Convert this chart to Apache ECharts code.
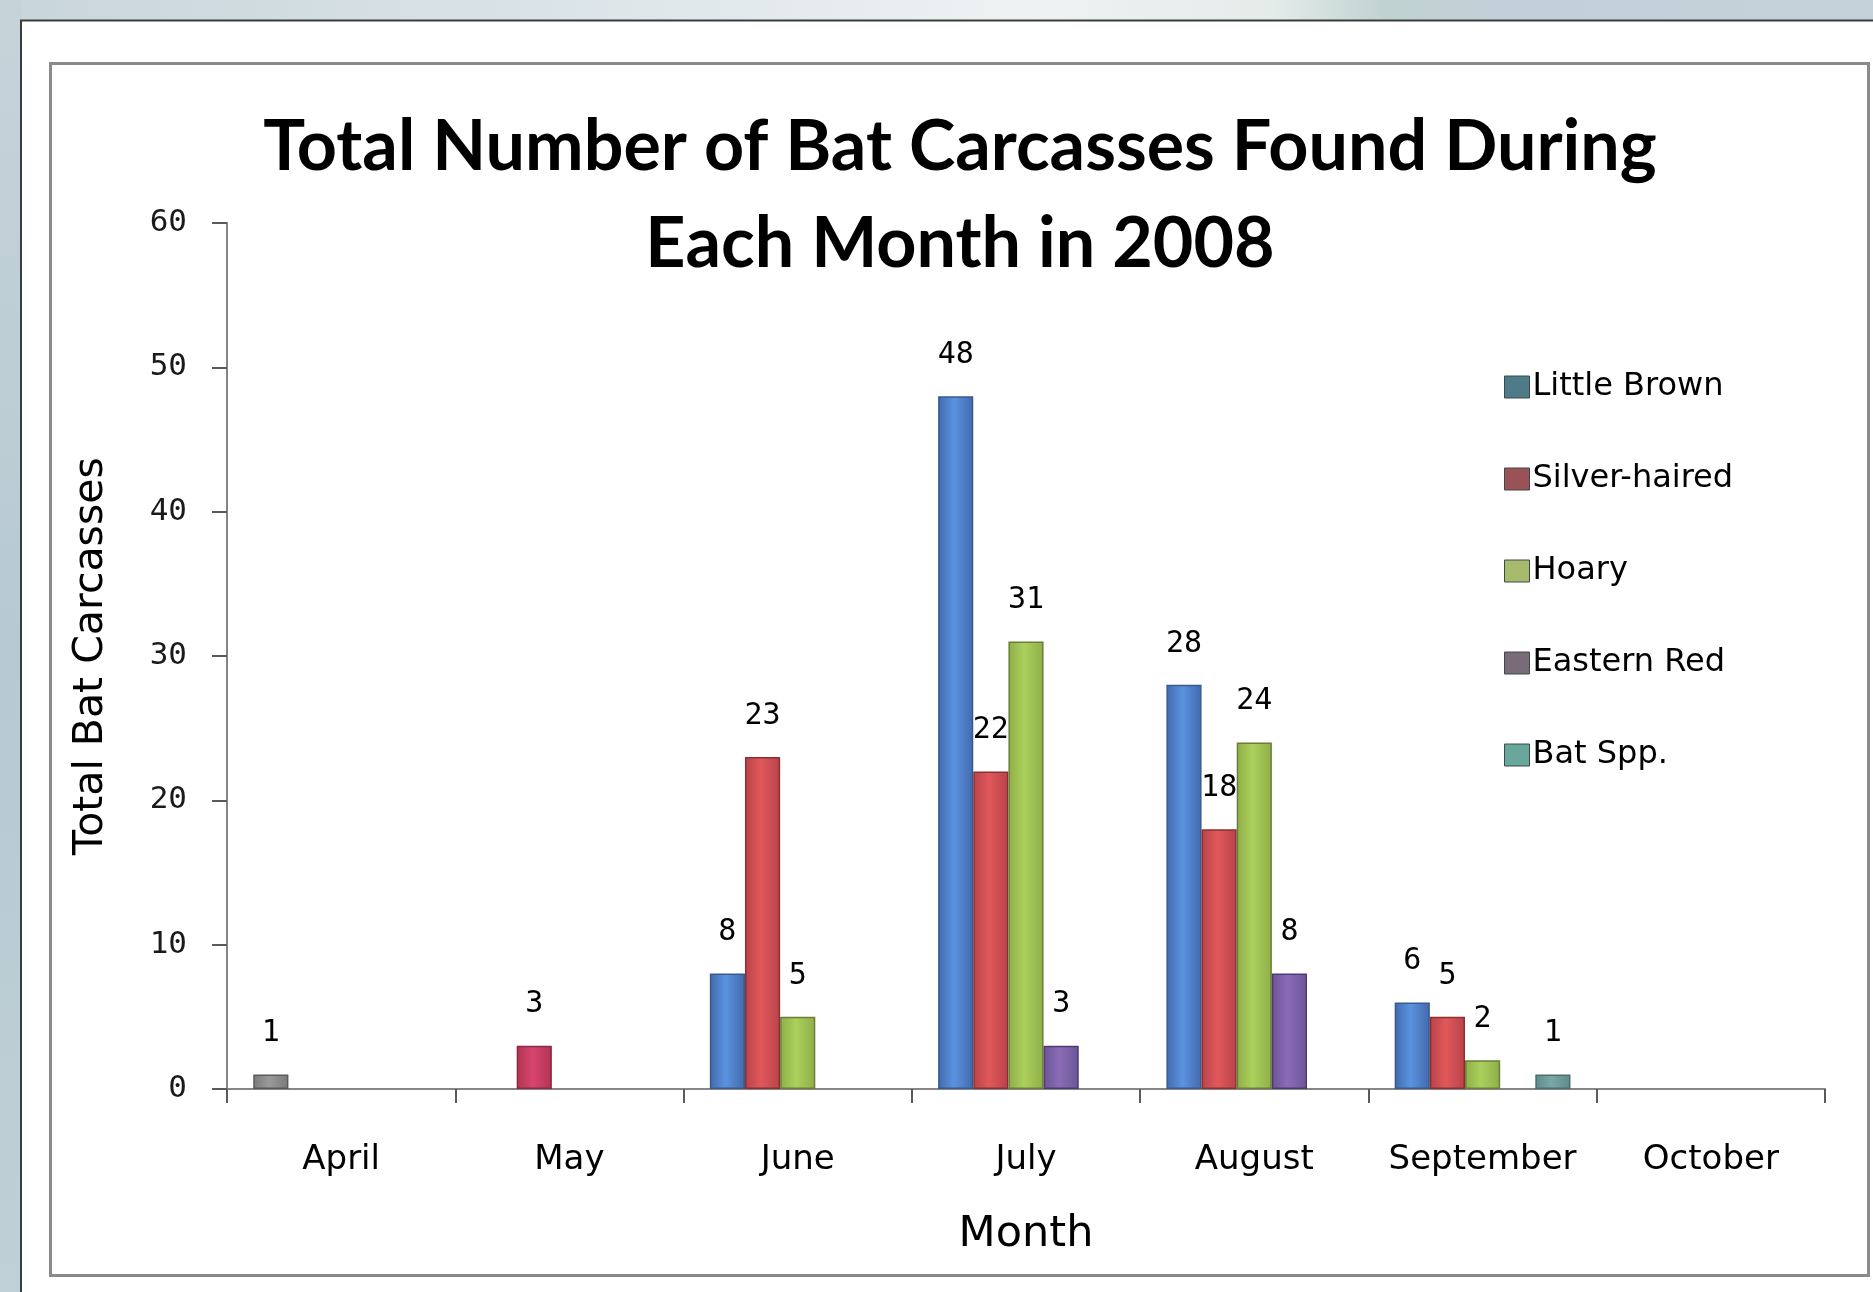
<!DOCTYPE html>
<html>
<head>
<meta charset="utf-8">
<title>Total Number of Bat Carcasses Found During Each Month in 2008</title>
<script src="https://cdn.jsdelivr.net/npm/echarts@6/dist/echarts.min.js"></script>
<style>
  html, body { margin: 0; padding: 0; background: #ffffff; }
  #chart { width: 1873px; height: 1292px; }
</style>
</head>
<body>
<div id="chart"></div>
<script>
// Months on the category axis
const months = ['April', 'May', 'June', 'July', 'August', 'September', 'October'];

// Carcass counts per species and month (null = none recorded)
const littleBrown  = [1, null, 8, 48, 28, 6, null];
const silverHaired = [null, 3, 23, 22, 18, 5, null];
const hoary        = [null, null, 5, 31, 24, 2, null];
const easternRed   = [null, null, null, 3, 8, null, null];
const batSpp       = [null, null, null, null, null, 1, null];

// Value axis ticks
const yTicks = [0, 10, 20, 30, 40, 50, 60];

const speciesNames = ['Little Brown', 'Silver-haired', 'Hoary', 'Eastern Red', 'Bat Spp.'];

// Bar fill (edge, centre) and outline colours per species
const barStyles = [
  { edge: '#4269ad', mid: '#5b93e0', border: '#3a5a8c' },
  { edge: '#b8434a', mid: '#e0585a', border: '#8a3030' },
  { edge: '#8fae48', mid: '#abd05c', border: '#6a7e38' },
  { edge: '#6c5597', mid: '#8a6cb6', border: '#4e3c70' },
  { edge: '#5d8a8a', mid: '#7aa8a6', border: '#4a6e6e' }
];
// Legend key colours
const legendColors = ['#4f7b88', '#9a5256', '#a8bb6c', '#7a6b78', '#69a79d'];

function hGrad(edge, mid) {
  return new echarts.graphic.LinearGradient(0, 0, 1, 0, [
    { offset: 0, color: edge },
    { offset: 0.45, color: mid },
    { offset: 1, color: edge }
  ]);
}

// A few individual bars carry their own tint
function withOverrides(values, overrides) {
  return values.map((v, i) => {
    if (overrides[i] && v != null) {
      const o = overrides[i];
      return { value: v, itemStyle: { color: hGrad(o.edge, o.mid), borderColor: o.border } };
    }
    return v;
  });
}

const seriesData = [
  withOverrides(littleBrown, { 0: { edge: '#7a7a7a', mid: '#9a9a9a', border: '#5a5a5a' } }),
  withOverrides(silverHaired, { 1: { edge: '#b23454', mid: '#d8456e', border: '#8a2a44' } }),
  hoary,
  easternRed,
  batSpp
];

const chart = echarts.init(document.getElementById('chart'), null, { renderer: 'canvas' });

const monoFont = '"DejaVu Sans Mono", monospace';
const textFont = '"DejaVu Sans", sans-serif';

chart.setOption({
  backgroundColor: '#ffffff',
  animation: false,
  graphic: [
    // frame around the sheet
    {
      type: 'rect', z: -10, silent: true,
      shape: { x: 0, y: 0, width: 1873, height: 20 },
      style: {
        fill: new echarts.graphic.LinearGradient(0, 0, 1, 0, [
          { offset: 0, color: '#c8d5db' },
          { offset: 0.3, color: '#dbe4e8' },
          { offset: 0.55, color: '#eef2f3' },
          { offset: 0.68, color: '#e4ecea' },
          { offset: 0.74, color: '#c0d2d0' },
          { offset: 0.8, color: '#c4d0d9' },
          { offset: 1, color: '#c6d2da' }
        ])
      }
    },
    {
      type: 'rect', z: -10, silent: true,
      shape: { x: 0, y: 0, width: 21, height: 1292 },
      style: {
        fill: new echarts.graphic.LinearGradient(0, 0, 0, 1, [
          { offset: 0, color: '#c6d4da' },
          { offset: 0.5, color: '#b7c9d1' },
          { offset: 1, color: '#bfd0d6' }
        ])
      }
    },
    {
      type: 'polyline', z: -9, silent: true,
      shape: { points: [[21, 1292], [21, 20.5], [1873, 20.5]] },
      style: { stroke: '#3c3c3c', lineWidth: 2, fill: null }
    },
    {
      type: 'rect', z: -9, silent: true,
      shape: { x: 50.5, y: 63.5, width: 1818, height: 1212 },
      style: { stroke: '#8a8a8a', lineWidth: 3, fill: null }
    }
  ],
  title: {
    text: 'Total Number of Bat Carcasses Found During\nEach Month in 2008',
    left: 960,
    top: 99,
    padding: 0,
    textAlign: 'center',
    textStyle: {
      fontFamily: 'Lato, sans-serif',
      fontWeight: 'bold',
      fontSize: 70,
      lineHeight: 97,
      color: '#000000'
    }
  },
  legend: {
    orient: 'vertical',
    left: 1499,
    top: 366,
    itemWidth: 25,
    itemHeight: 22,
    itemGap: 60,
    icon: 'rect',
    textStyle: { fontFamily: textFont, fontSize: 32, color: '#000000', padding: [0, 0, 0, -2] },
    data: speciesNames.map((n, i) => ({
      name: n,
      itemStyle: { color: legendColors[i], borderColor: '#3a4a4a', borderWidth: 1 }
    }))
  },
  grid: { left: 227, right: 48, top: 223, bottom: 203 },
  xAxis: {
    type: 'category',
    data: months,
    name: 'Month',
    nameLocation: 'middle',
    nameGap: 124,
    nameTextStyle: { fontFamily: textFont, fontSize: 43, color: '#000000' },
    axisLine: { lineStyle: { color: '#868686', width: 2 } },
    axisTick: { show: true, length: 14, lineStyle: { color: '#5a5a5a', width: 2 } },
    axisLabel: { interval: 0, margin: 54, fontFamily: textFont, fontSize: 34, color: '#000000' }
  },
  yAxis: {
    type: 'value',
    min: yTicks[0],
    max: yTicks[yTicks.length - 1],
    interval: yTicks[1] - yTicks[0],
    name: 'Total Bat Carcasses',
    nameLocation: 'middle',
    nameGap: 115,
    nameRotate: 90,
    nameTextStyle: { fontFamily: textFont, fontSize: 41, color: '#000000' },
    axisLine: { show: true, lineStyle: { color: '#868686', width: 2 } },
    axisTick: { show: true, length: 15, lineStyle: { color: '#5a5a5a', width: 2 } },
    axisLabel: { margin: 40, fontFamily: monoFont, fontSize: 31, color: '#1a1a1a' },
    splitLine: { show: false }
  },
  series: speciesNames.map((name, i) => ({
    type: 'bar',
    name: name,
    data: seriesData[i],
    barGap: '0%',
    barCategoryGap: '23%',
    itemStyle: {
      color: hGrad(barStyles[i].edge, barStyles[i].mid),
      borderColor: barStyles[i].border,
      borderWidth: 1.5
    },
    label: {
      show: true,
      position: 'top',
      distance: 26,
      fontFamily: monoFont,
      fontSize: 30,
      color: '#000000'
    }
  }))
});
</script>
</body>
</html>
